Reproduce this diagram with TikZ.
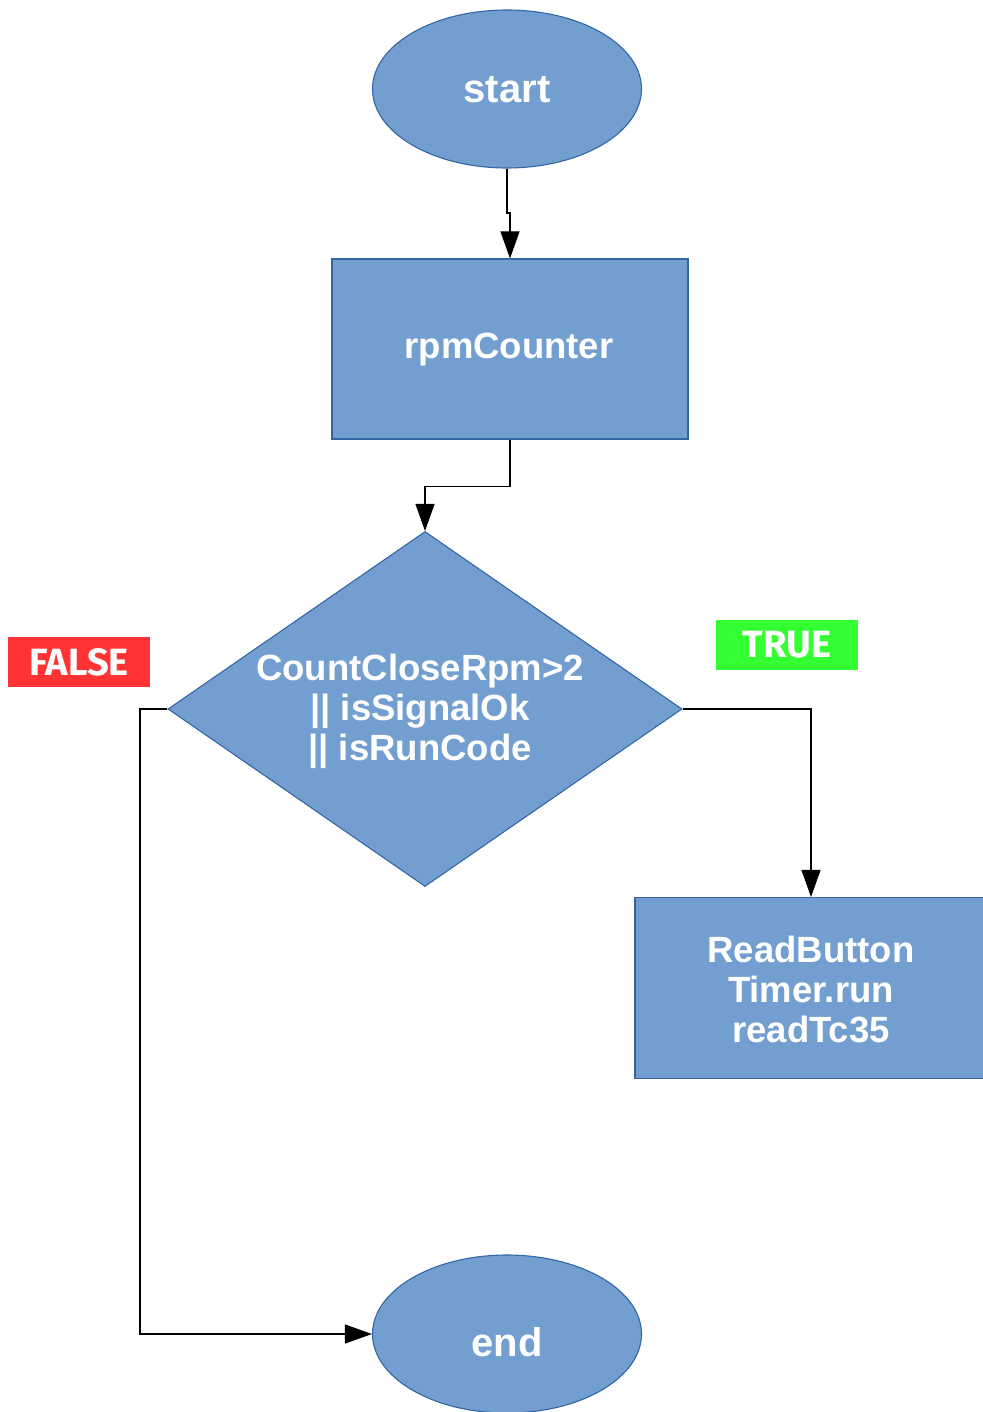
\documentclass[tikz,border=0pt]{standalone}
\usepackage{fontspec}
\setmainfont{Liberation Sans}
\newfontfamily\tagfont{Fira Sans}
\usetikzlibrary{shapes.geometric,arrows.meta}
\definecolor{flowfill}{HTML}{729FCF}
\definecolor{flowedge}{HTML}{3465A4}
\definecolor{falsered}{HTML}{FF3333}
\definecolor{truegreen}{HTML}{33FF33}
\tikzset{
  shapebase/.style={fill=flowfill, draw=flowedge, line width=1.1pt, text=white,
    font=\fontsize{36.5}{40}\selectfont\bfseries, align=center, inner sep=0pt},
  terminal/.style={shapebase, ellipse, minimum width=269pt, minimum height=158pt},
  process/.style={shapebase, rectangle, minimum width=356pt, minimum height=180pt},
  decision/.style={shapebase, diamond, minimum width=514pt, minimum height=355pt},
  caption/.style={text=white, font=\fontsize{36.5}{40}\selectfont\bfseries,
    align=center, inner sep=0pt},
  bigcaption/.style={caption, font=\fontsize{40}{44}\selectfont\bfseries},
  tag/.style={text=white, font=\tagfont\fontsize{38}{40}\selectfont\bfseries,
    minimum width=142pt, minimum height=50pt, inner sep=0pt},
  flow/.style={draw=black, line width=1.1pt, -{Triangle[width=19pt,length=27pt]}}
}
\begin{document}
\begin{tikzpicture}[x=1pt,y=-1pt]
\useasboundingbox (0,0) rectangle (982,1412);

% shapes
\node[terminal] (start) at (507,89) {};
\node[process] (rpm) at (510,349) {};
\node[decision] (cond) at (425,709) {};
\node[process, minimum width=352pt, minimum height=181pt] (work) at (811,988) {};
\node[terminal] (end) at (507,1334) {};

% texts inside the shapes
\node[bigcaption] (starttext) at (507,90) {start};
\node[caption] (rpmtext) at (509,350) {rpmCounter};
\node[caption] (condtext) at (420,711) {CountCloseRpm>2\\|| isSignalOk\\|| isRunCode};
\node[caption] (worktext) at (811,989) {ReadButton\\Timer.run\\readTc35};
\node[bigcaption] (endtext) at (507,1342) {end};

% branch tags
\node[tag, fill=falsered] (false) at (79,662) {FALSE};
\node[tag, fill=truegreen] (true) at (787,645) {TRUE};

% connectors
\coordinate (j1) at (507,213);
\coordinate (j2) at (510,213);
\draw[flow] (start.south) -- (j1) -- (j2) -- (rpm.north);
\draw[flow] (rpm.south) -- ++(0,47) -| (cond.north);
\draw[flow] (cond.east) -| (work.north);
\draw[flow] (cond.west) -- (140,709) |- (end.west);
\end{tikzpicture}
\end{document}
